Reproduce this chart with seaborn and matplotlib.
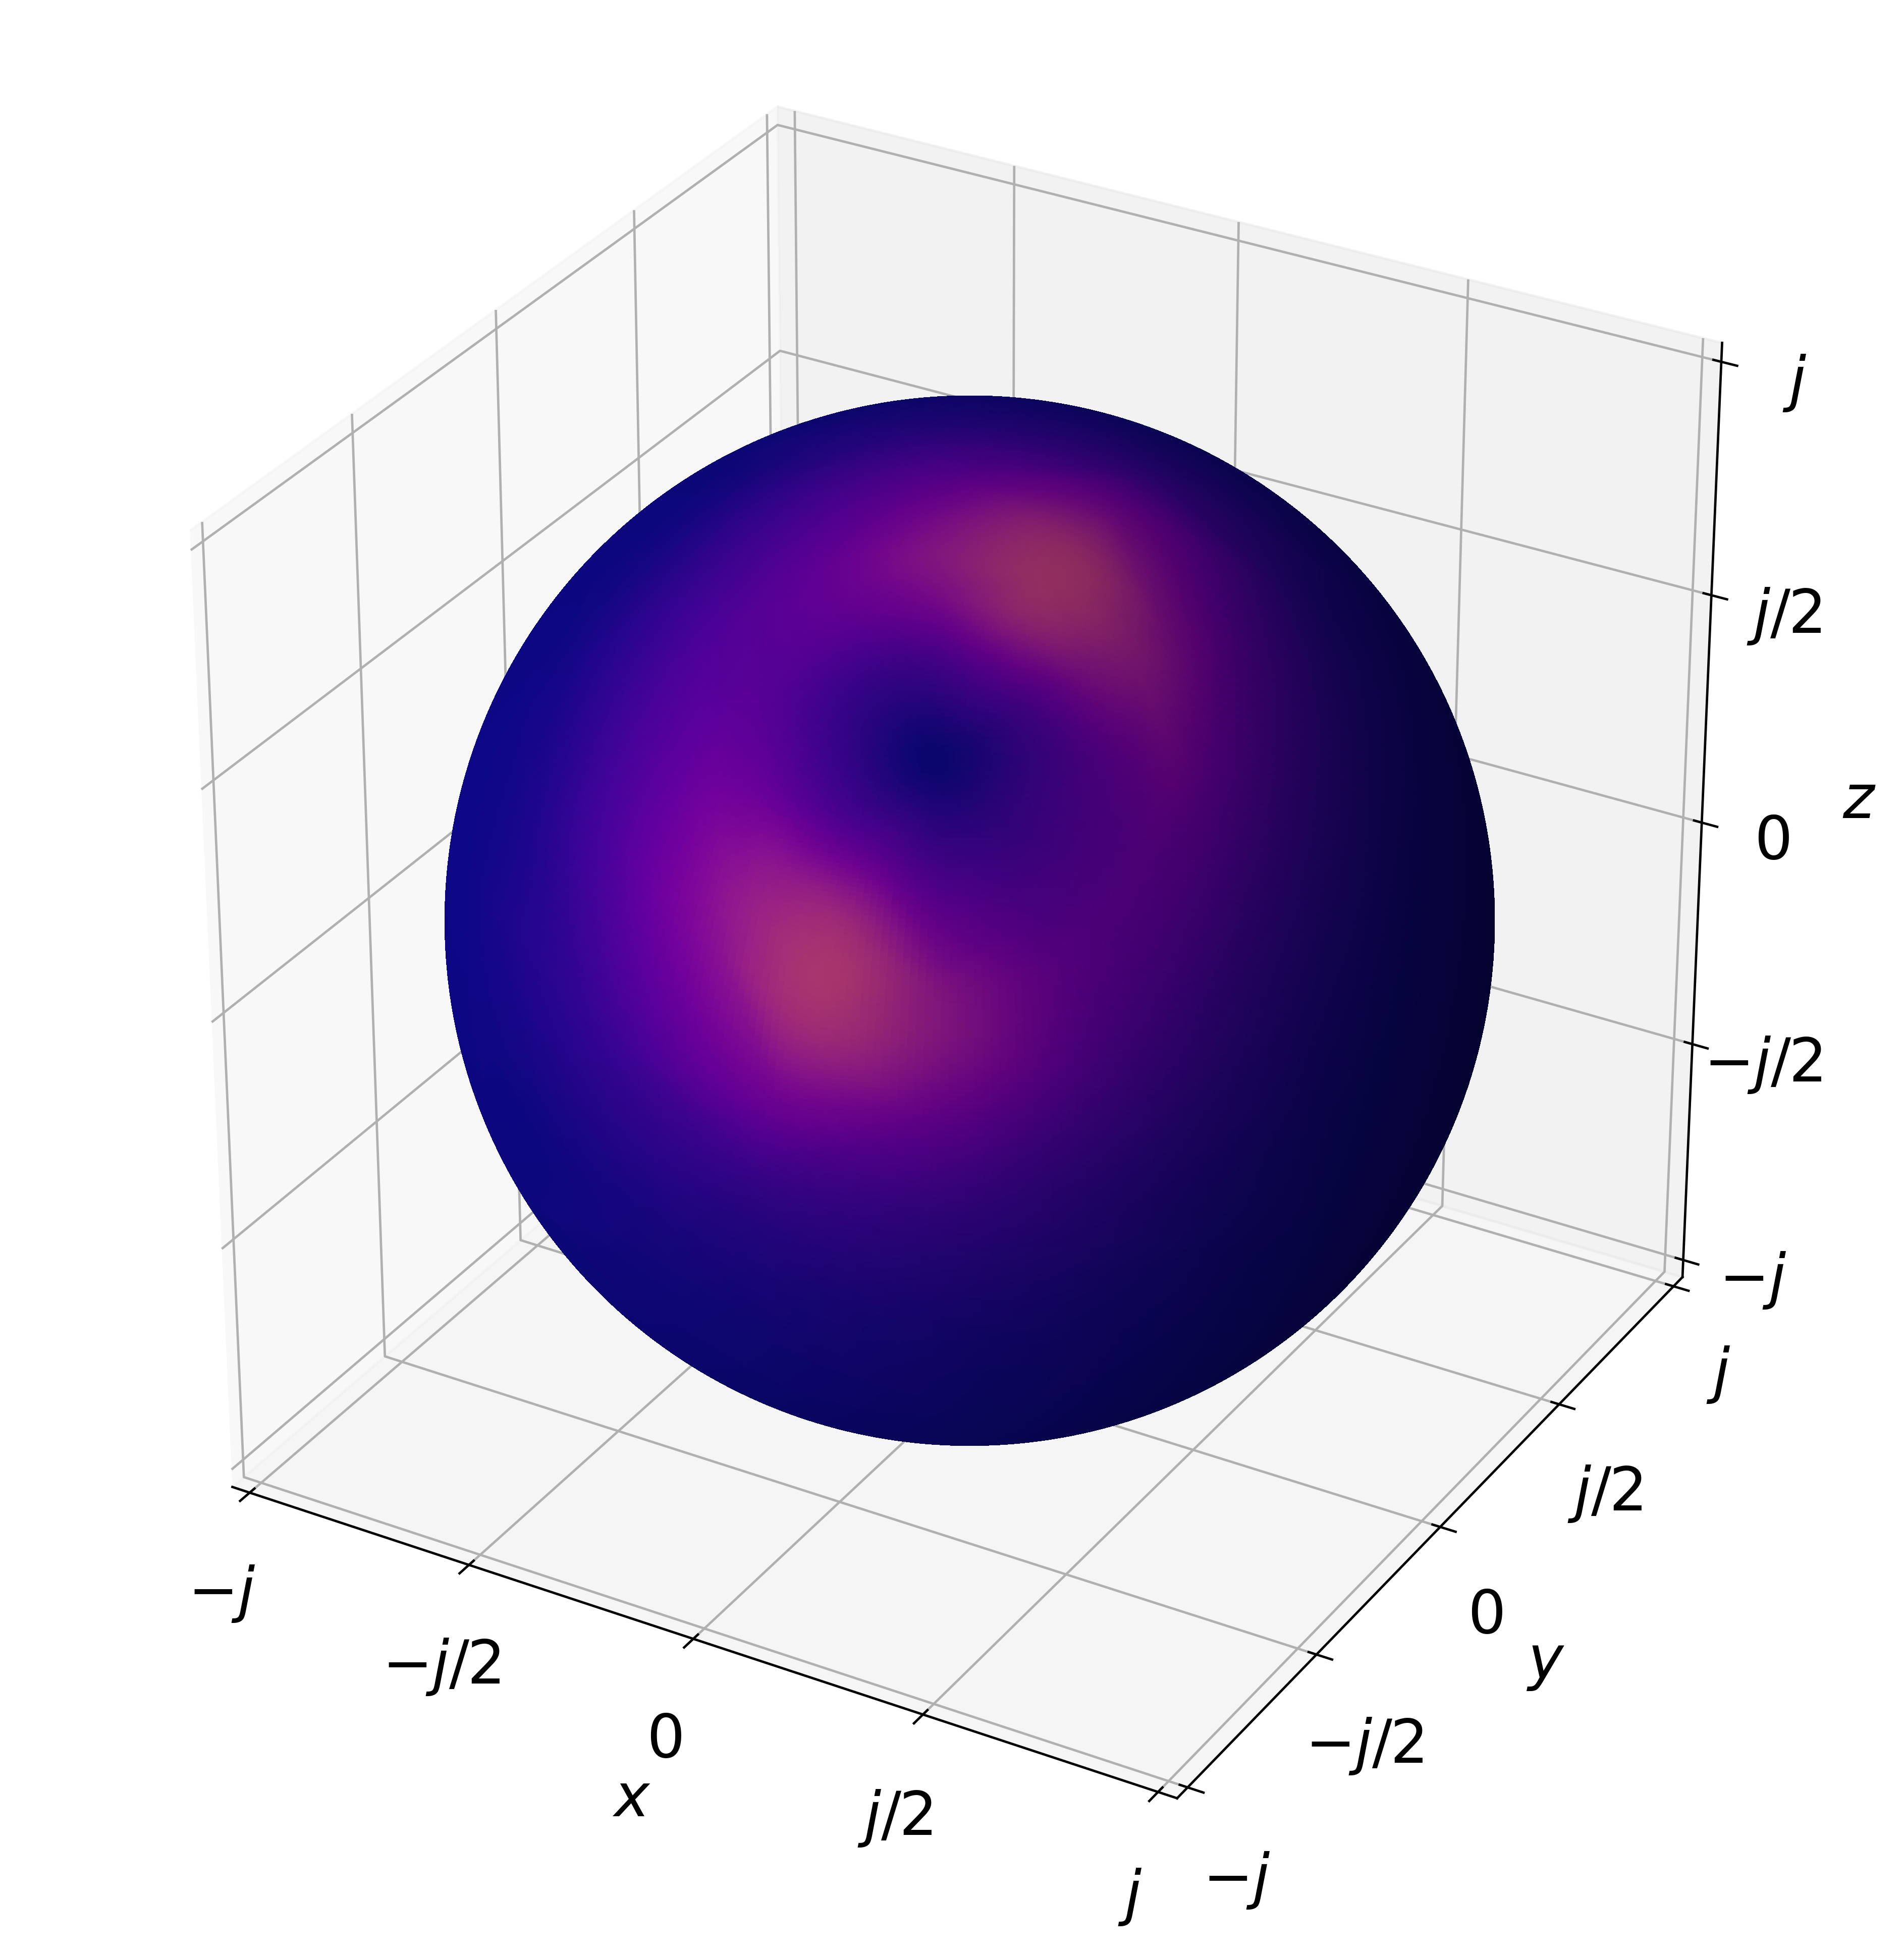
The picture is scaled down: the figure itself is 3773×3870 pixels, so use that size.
import numpy as np
import seaborn as sns
import matplotlib
matplotlib.use("Agg")
import matplotlib.pyplot as plt
from matplotlib.tri import Triangulation, CubicTriInterpolator

# colour level on the sphere, read off the picture around the dark spot
# columns: angle from the spot (deg), rows: direction around the spot (deg)
ring_angles = [10, 20, 25, 30, 40, 50, 65, 90]
ring_dirs = [0, 30, 60, 90, 120, 150, 180, 210, 240, 270, 300, 330]
levels = [
    [.15, .43, .47, .45, .26, .08, .01, 0],
    [.11, .30, .34, .30, .16, .05, .005, 0],
    [.08, .20, .21, .18, .09, .02, 0, 0],
    [.08, .17, .17, .15, .07, .015, 0, 0],
    [.10, .22, .23, .19, .10, .03, .005, 0],
    [.13, .34, .35, .30, .17, .07, .01, 0],
    [.16, .43, .47, .44, .25, .09, .02, 0],
    [.12, .28, .34, .33, .19, .08, .02, 0],
    [.10, .19, .22, .20, .12, .05, .01, 0],
    [.10, .18, .20, .17, .08, .03, 0, 0],
    [.10, .22, .26, .20, .09, .03, 0, 0],
    [.12, .33, .36, .30, .15, .05, .01, 0],
]
spot = [0.282, -0.623, 0.730]
lobe = [0.301, -0.251, 0.920]

tick_values = [-1, -0.5, 0, 0.5, 1]
tick_labels = ["$-j$", "$-j/2$", "0", "$j/2$", "$j$"]

plt.rcParams["font.size"] = 24
plt.rcParams["axes.linewidth"] = 0.95
plt.rcParams["grid.linewidth"] = 0.95
plt.rcParams["xtick.major.width"] = 0.95
plt.rcParams["ytick.major.width"] = 0.95

# sphere mesh
theta = np.linspace(0, np.pi, 400)
phi = np.linspace(0, 2 * np.pi, 400)
theta, phi = np.meshgrid(theta, phi)
x = np.sin(theta) * np.cos(phi)
y = np.sin(theta) * np.sin(phi)
z = np.cos(theta)

# frame at the spot
n = np.array(spot) / np.linalg.norm(spot)
e1 = np.array(lobe) - np.dot(lobe, n) * n
e1 /= np.linalg.norm(e1)
e2 = np.cross(n, e1)

# smooth the read table over the mesh, like gouraud shading of a coarse grid
rr, dd = np.meshgrid(ring_angles, np.radians(ring_dirs))
px = np.r_[0, (rr * np.cos(dd)).ravel()]
py = np.r_[0, (rr * np.sin(dd)).ravel()]
vals = np.r_[0, np.array(levels).ravel()]
interp = CubicTriInterpolator(Triangulation(px, py), vals, kind="geom")

dist = np.degrees(np.arccos(np.clip(x * n[0] + y * n[1] + z * n[2], -1, 1)))
a = x * e1[0] + y * e1[1] + z * e1[2]
b = x * e2[0] + y * e2[1] + z * e2[2]
ang = np.arctan2(b, a)
field = interp(dist * np.cos(ang), dist * np.sin(ang))
field = np.clip(np.ma.filled(field, 0), 0, 1)

cmap = sns.color_palette("plasma", as_cmap=True)

dpi = 357
fig = plt.figure(figsize=(3773 / dpi, 3870 / dpi))
ax = fig.add_axes([0.0148, 0.0464, 0.963, 0.939], projection="3d")
ax.plot_surface(x, y, z, facecolors=cmap(field), rstride=1, cstride=1,
                linewidth=0, antialiased=False)
ax.set_box_aspect((1, 1, 1))
ax.set_xlim(-1.04, 1.04)
ax.set_ylim(-1.04, 1.04)
ax.set_zlim(-1.04, 1.04)
for axis in (ax.xaxis, ax.yaxis, ax.zaxis):
    axis.set_ticks(tick_values)
    axis.set_ticklabels(tick_labels)
ax.tick_params(axis="both", pad=11)
ax.tick_params(axis="z", pad=11)
ax.set_xlabel("$x$", labelpad=21)
ax.set_ylabel("$y$", labelpad=22)
ax.set_zlabel("$z$", labelpad=21)
fig.savefig("out.png", dpi=dpi)
plt.close(fig)
